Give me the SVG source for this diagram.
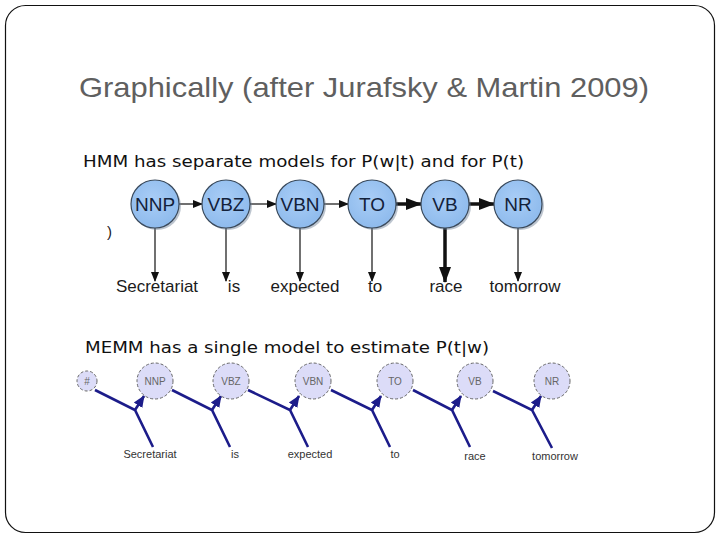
<svg xmlns="http://www.w3.org/2000/svg" width="720" height="540" viewBox="0 0 720 540">
<style>
.title{font-family:"Liberation Sans",Arial,sans-serif;font-size:28px;fill:#5f5f5f}
.sub{font-family:"DejaVu Sans",Verdana,sans-serif;font-size:16px;fill:#111}
.hn circle.c{fill:url(#gBlue);stroke:#3a4a5c;stroke-width:1.2}
.hn circle.s{fill:#6c7f95;opacity:0.45}
.hl{font-family:"Liberation Sans",Arial,sans-serif;font-size:19px;fill:#13213a;text-anchor:middle}
.hw{font-family:"Liberation Sans",Arial,sans-serif;font-size:17px;fill:#1b1b1b;text-anchor:middle}
.thin{stroke:#111;stroke-width:1.2;fill:none}
.thick{stroke:#111;stroke-width:3.5;fill:none}
.mn circle{fill:#dcdcf8;stroke:#666;stroke-width:1;stroke-dasharray:3 2}
.ml{font-family:"Liberation Sans",Arial,sans-serif;font-size:10px;fill:#666;text-anchor:middle}
.mw{font-family:"Liberation Sans",Arial,sans-serif;font-size:11px;fill:#333;text-anchor:middle}
.bl{stroke:#1c1c8a;stroke-width:2.6;fill:none}
</style>
<defs>
<radialGradient id="gBlue" cx="0.45" cy="0.4" r="0.65"><stop offset="0" stop-color="#a9cdf6"/><stop offset="1" stop-color="#8cb9ec"/></radialGradient>
<marker id="aThin" markerUnits="userSpaceOnUse" markerWidth="10" markerHeight="8" refX="9" refY="4" orient="auto"><path d="M0,0 L10,4 L0,8 Z" fill="#111"/></marker>
<marker id="aThick" markerUnits="userSpaceOnUse" markerWidth="16" markerHeight="12" refX="15" refY="6" orient="auto"><path d="M0,0 L16,6 L0,12 Z" fill="#111"/></marker>
<marker id="aBlue" markerUnits="userSpaceOnUse" markerWidth="12" markerHeight="12" refX="11" refY="6" orient="auto"><path d="M0,1 L12,6 L0,11 Z" fill="#1c1c8a"/></marker>
</defs>
<rect x="5.5" y="5.5" width="709" height="527" rx="20" ry="20" fill="#fff" stroke="#111" stroke-width="1.2"/>
<text class="title" x="79" y="97" textLength="570" lengthAdjust="spacingAndGlyphs">Graphically (after Jurafsky &amp; Martin 2009)</text>
<text class="sub" x="83" y="167" textLength="441" lengthAdjust="spacingAndGlyphs">HMM has separate models for P(w|t) and for P(t)</text>
<text class="sub" x="85" y="353" textLength="404" lengthAdjust="spacingAndGlyphs">MEMM has a single model to estimate P(t|w)</text>
<text x="107" y="237" font-family="Liberation Sans,Arial,sans-serif" font-size="15" fill="#222">)</text>

<g id="hmm-edges">
<line class="thin" x1="179" y1="204" x2="202" y2="204" marker-end="url(#aThin)"/>
<line class="thin" x1="250" y1="204" x2="276" y2="204" marker-end="url(#aThin)"/>
<line class="thin" x1="324" y1="204" x2="348" y2="204" marker-end="url(#aThin)"/>
<line class="thick" x1="396" y1="204" x2="421" y2="204" marker-end="url(#aThick)"/>
<line class="thick" x1="469" y1="204" x2="494" y2="204" marker-end="url(#aThick)"/>
<line class="thin" x1="155" y1="228" x2="155" y2="281" marker-end="url(#aThin)"/>
<line class="thin" x1="226" y1="228" x2="226" y2="281" marker-end="url(#aThin)"/>
<line class="thin" x1="300" y1="228" x2="300" y2="281" marker-end="url(#aThin)"/>
<line class="thin" x1="372" y1="228" x2="372" y2="281" marker-end="url(#aThin)"/>
<line class="thick" x1="445" y1="228" x2="445" y2="282" marker-end="url(#aThick)"/>
<line class="thin" x1="518" y1="228" x2="518" y2="281" marker-end="url(#aThin)"/>
</g>
<g id="hmm-NNP" class="hn"><circle class="s" cx="157" cy="206" r="24"/><circle class="c" cx="155" cy="204" r="24"/><text class="hl" x="155" y="211">NNP</text></g>
<g id="hmm-VBZ" class="hn"><circle class="s" cx="228" cy="206" r="24"/><circle class="c" cx="226" cy="204" r="24"/><text class="hl" x="226" y="211">VBZ</text></g>
<g id="hmm-VBN" class="hn"><circle class="s" cx="302" cy="206" r="24"/><circle class="c" cx="300" cy="204" r="24"/><text class="hl" x="300" y="211">VBN</text></g>
<g id="hmm-TO" class="hn"><circle class="s" cx="374" cy="206" r="24"/><circle class="c" cx="372" cy="204" r="24"/><text class="hl" x="372" y="211">TO</text></g>
<g id="hmm-VB" class="hn"><circle class="s" cx="447" cy="206" r="24"/><circle class="c" cx="445" cy="204" r="24"/><text class="hl" x="445" y="211">VB</text></g>
<g id="hmm-NR" class="hn"><circle class="s" cx="520" cy="206" r="24"/><circle class="c" cx="518" cy="204" r="24"/><text class="hl" x="518" y="211">NR</text></g>
<g id="hmm-words">
<text class="hw" x="157" y="292">Secretariat</text>
<text class="hw" x="234" y="292">is</text>
<text class="hw" x="305" y="292">expected</text>
<text class="hw" x="375" y="292">to</text>
<text class="hw" x="446" y="292">race</text>
<text class="hw" x="525" y="292">tomorrow</text>
</g>

<g id="memm-edges">
<polyline class="bl" points="95,390 135,410 153,447"/>
<line class="bl" x1="135" y1="410" x2="144" y2="396" marker-end="url(#aBlue)"/>
<polyline class="bl" points="172,390 212,410 230,447"/>
<line class="bl" x1="212" y1="410" x2="221" y2="396" marker-end="url(#aBlue)"/>
<polyline class="bl" points="248,390 290,410 308,447"/>
<line class="bl" x1="290" y1="410" x2="299" y2="396" marker-end="url(#aBlue)"/>
<polyline class="bl" points="331,390 372,410 390,447"/>
<line class="bl" x1="372" y1="410" x2="381" y2="396" marker-end="url(#aBlue)"/>
<polyline class="bl" points="413,390 452,410 470,447"/>
<line class="bl" x1="452" y1="410" x2="461" y2="396" marker-end="url(#aBlue)"/>
<polyline class="bl" points="493,391 532,410 552,448"/>
<line class="bl" x1="532" y1="410" x2="541" y2="396" marker-end="url(#aBlue)"/>
</g>
<g id="memm-start" class="mn"><circle cx="87" cy="381" r="10"/><text class="ml" x="87" y="385">#</text></g>
<g id="memm-NNP" class="mn"><circle cx="155" cy="381" r="18"/><text class="ml" x="155" y="385">NNP</text></g>
<g id="memm-VBZ" class="mn"><circle cx="231" cy="381" r="18"/><text class="ml" x="231" y="385">VBZ</text></g>
<g id="memm-VBN" class="mn"><circle cx="313" cy="381" r="18"/><text class="ml" x="313" y="385">VBN</text></g>
<g id="memm-TO" class="mn"><circle cx="395" cy="381" r="18"/><text class="ml" x="395" y="385">TO</text></g>
<g id="memm-VB" class="mn"><circle cx="475" cy="381" r="18"/><text class="ml" x="475" y="385">VB</text></g>
<g id="memm-NR" class="mn"><circle cx="552" cy="381" r="18"/><text class="ml" x="552" y="385">NR</text></g>
<g id="memm-words">
<text class="mw" x="150" y="458">Secretariat</text>
<text class="mw" x="235" y="458">is</text>
<text class="mw" x="310" y="458">expected</text>
<text class="mw" x="395" y="458">to</text>
<text class="mw" x="475" y="460">race</text>
<text class="mw" x="555" y="460">tomorrow</text>
</g>
</svg>
